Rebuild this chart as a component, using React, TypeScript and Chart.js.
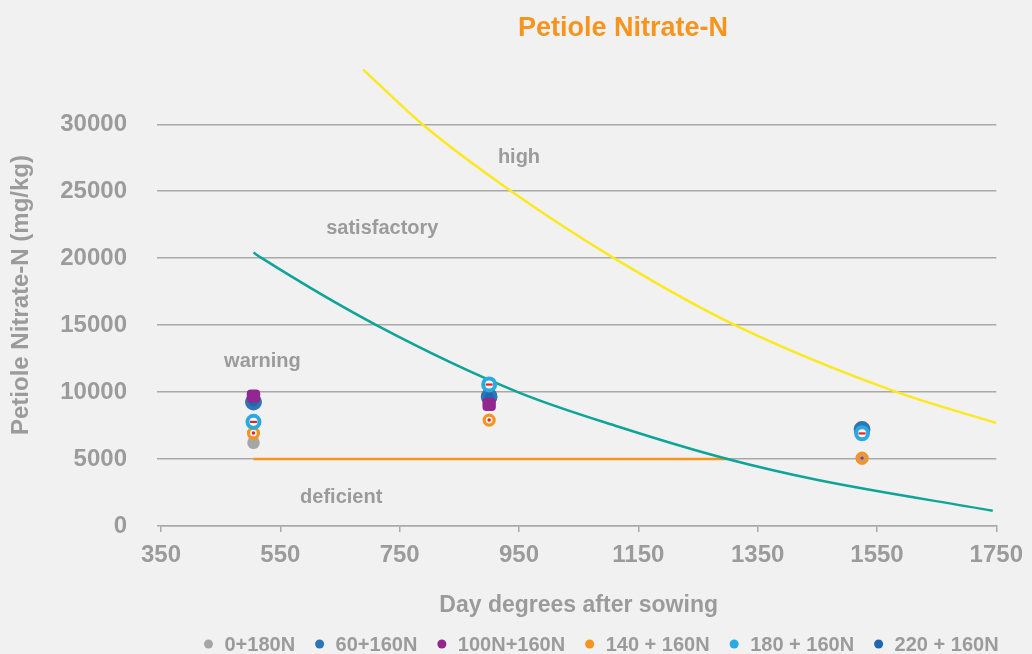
import React, { useEffect, useRef } from "react";
import { Chart, registerables } from "chart.js";

Chart.register(...registerables);

// ---------- data ----------
const groupX = [505, 900, 1525];
const seriesNames = ["0+180N", "60+160N", "100N+160N", "140 + 160N", "180 + 160N", "220 + 160N"];
const s0 = [6220, 9650, 5050];
const s60 = [9250, 9650, 7220];
const s100 = [9700, 9080, null];
const s140 = [6940, 7910, 5070];
const s180 = [7780, 10570, 6920];
const s220 = [9300, 9700, 7170];

const highX = [689, 788, 937, 1112, 1312, 1580, 1750];
const highY = [34080, 30000, 25000, 19930, 15000, 10050, 7690];
const satX = [505, 519, 711, 948, 1117, 1301, 1451, 1744];
const satY = [20420, 20000, 15000, 10000, 7410, 4980, 3430, 1140];
const defX = [505, 1300];
const defY = [5000, 5000];

const zoneNames = ["high", "satisfactory", "warning", "deficient"];
const zoneX = [950, 721, 520, 652];
const zoneY = [27540, 22240, 12310, 2160];

const xTicks = [350, 550, 750, 950, 1150, 1350, 1550, 1750];
const yTicks = [0, 5000, 10000, 15000, 20000, 25000, 30000];

// ---------- styles ----------
const GREY_TXT = "#9b9b9b";
const GRID = "#a9a9a9";
const BG = "#f1f1f1";
const FONT = "'Liberation Sans', Arial, sans-serif";
const legendColors = ["#a6a6a6", "#2e75b6", "#92278f", "#f7941d", "#29abe2", "#1f68b0"];

const pts = (xs: number[], ys: (number | null)[]) =>
  xs.map((x, i) => ({ x, y: ys[i] })).filter((p) => p.y !== null);

const bgPlugin = {
  id: "bgFill",
  beforeDraw(chart: any) {
    const { ctx, width, height } = chart;
    ctx.save();
    ctx.fillStyle = BG;
    ctx.fillRect(0, 0, width, height);
    ctx.restore();
  },
};

const centerMarks = {
  id: "centerMarks",
  afterDatasetsDraw(chart: any) {
    const { ctx } = chart;
    ctx.save();
    ctx.fillStyle = "#e8202a";
    chart.data.datasets.forEach((ds: any, i: number) => {
      if (!ds.centerMark) return;
      const meta = chart.getDatasetMeta(i);
      meta.data.forEach((el: any) => {
        if (ds.centerMark === "dash") {
          ctx.fillRect(el.x - 3.5, el.y - 1, 7, 2.2);
        } else {
          ctx.beginPath();
          ctx.arc(el.x, el.y, 1.7, 0, Math.PI * 2);
          ctx.fill();
        }
      });
    });
    ctx.restore();
  },
};

const textPlugin = {
  id: "texts",
  afterDraw(chart: any) {
    const { ctx, scales } = chart;
    ctx.save();
    // zone labels
    ctx.font = `bold 20px ${FONT}`;
    ctx.fillStyle = GREY_TXT;
    ctx.textAlign = "center";
    ctx.textBaseline = "middle";
    zoneNames.forEach((t, i) => {
      ctx.fillText(t, scales.x.getPixelForValue(zoneX[i]), scales.y.getPixelForValue(zoneY[i]));
    });
    // title
    ctx.font = `bold 27px ${FONT}`;
    ctx.fillStyle = "#f7941d";
    ctx.fillText("Petiole Nitrate-N", 623, 29);
    // legend
    ctx.font = `bold 20px ${FONT}`;
    ctx.textAlign = "left";
    let x = 204;
    const y = 644;
    seriesNames.forEach((name, i) => {
      ctx.fillStyle = legendColors[i];
      ctx.beginPath();
      ctx.arc(x + 4.5, y, 4.5, 0, Math.PI * 2);
      ctx.fill();
      ctx.fillStyle = GREY_TXT;
      const tx = x + 4.5 + 16;
      ctx.fillText(name, tx, y + 1);
      x = tx + ctx.measureText(name).width + 20;
    });
    ctx.restore();
  },
};

export default function App() {
  const ref = useRef<HTMLCanvasElement>(null);
  useEffect(() => {
    document.body.style.margin = "0";
    document.body.style.background = BG;
    const ringBg = "rgba(0,0,0,0)";
    const chart = new Chart(ref.current as HTMLCanvasElement, {
      type: "scatter",
      data: {
        datasets: [
          {
            label: seriesNames[2],
            data: pts(groupX, s100),
            pointStyle: "rectRounded",
            pointRadius: 7.8,
            pointBackgroundColor: "#92278f",
            pointBorderWidth: 0,
            order: 0,
          },
          {
            label: seriesNames[4],
            data: pts(groupX, s180),
            pointRadius: 6,
            pointBackgroundColor: "#ffffff",
            pointBorderColor: "#29abe2",
            pointBorderWidth: 4,
            order: 1,
            centerMark: "dash",
          } as any,
          {
            label: seriesNames[3],
            data: pts(groupX, s140),
            pointRadius: 5,
            pointBackgroundColor: ringBg,
            pointBorderColor: "#f7941d",
            pointBorderWidth: 3.2,
            order: 2,
            centerMark: "dot",
          } as any,
          {
            label: seriesNames[1],
            data: pts(groupX, s60),
            pointRadius: 6.4,
            pointBackgroundColor: ringBg,
            pointBorderColor: "#2e75b6",
            pointBorderWidth: 4,
            order: 3,
          },
          {
            label: seriesNames[5],
            data: pts(groupX, s220),
            pointRadius: 8,
            pointBackgroundColor: "#1f68b0",
            pointBorderWidth: 0,
            order: 4,
          },
          {
            label: seriesNames[0],
            data: pts(groupX, s0),
            pointRadius: 6.3,
            pointBackgroundColor: "#a6a6a6",
            pointBorderWidth: 0,
            order: 5,
          },
          {
            label: "high",
            data: pts(highX, highY),
            showLine: true,
            pointRadius: 0,
            borderColor: "#fbe920",
            borderWidth: 2.5,
            cubicInterpolationMode: "monotone",
            order: 10,
          },
          {
            label: "satisfactory",
            data: pts(satX, satY),
            showLine: true,
            pointRadius: 0,
            borderColor: "#0ea598",
            borderWidth: 2.5,
            cubicInterpolationMode: "monotone",
            order: 11,
          },
          {
            label: "deficient",
            data: pts(defX, defY),
            showLine: true,
            pointRadius: 0,
            borderColor: "#f7941d",
            borderWidth: 2.5,
            order: 12,
          },
        ],
      },
      options: {
        animation: false,
        responsive: false,
        layout: { padding: { top: 64, right: 33, bottom: 24, left: 0 } },
        plugins: { legend: { display: false }, tooltip: { enabled: false } },
        scales: {
          x: {
            type: "linear",
            min: 350,
            max: 1750,
            afterBuildTicks: (axis: any) => {
              axis.ticks = xTicks.map((v) => ({ value: v }));
            },
            afterFit: (s: any) => {
              s.height = 104;
            },
            grid: { display: true, drawOnChartArea: false, drawTicks: true, tickLength: 6, color: GRID, lineWidth: 1.5 },
            border: { display: true, color: GRID, width: 1.5 },
            ticks: {
              color: GREY_TXT,
              font: { family: FONT, size: 24, weight: "bold" },
              padding: 9,
              maxRotation: 0,
              autoSkip: false,
              callback: (v: any) => String(v),
            },
            title: {
              display: true,
              text: "Day degrees after sowing",
              color: GREY_TXT,
              font: { family: FONT, size: 23, weight: "bold" },
              padding: { top: 0, bottom: 11 },
            },
          },
          y: {
            type: "linear",
            min: 0,
            max: 34500,
            afterBuildTicks: (axis: any) => {
              axis.ticks = yTicks.map((v) => ({ value: v }));
            },
            afterFit: (s: any) => {
              s.width = 161;
            },
            grid: { color: GRID, lineWidth: 1.5, drawTicks: true, tickLength: 4 },
            border: { display: false },
            ticks: {
              color: GREY_TXT,
              font: { family: FONT, size: 24, weight: "bold" },
              padding: 30,
              callback: (v: any) => String(v),
            },
            title: {
              display: true,
              text: "Petiole Nitrate-N (mg/kg)",
              color: GREY_TXT,
              font: { family: FONT, size: 24, weight: "bold" },
              padding: { top: 7, bottom: 0 },
            },
          },
        },
      } as any,
      plugins: [bgPlugin, centerMarks, textPlugin],
    });
    return () => chart.destroy();
  }, []);
  return (
    <div style={{ width: 1032, height: 654, background: BG }}>
      <canvas ref={ref} width={1032} height={654} style={{ display: "block" }} />
    </div>
  );
}
